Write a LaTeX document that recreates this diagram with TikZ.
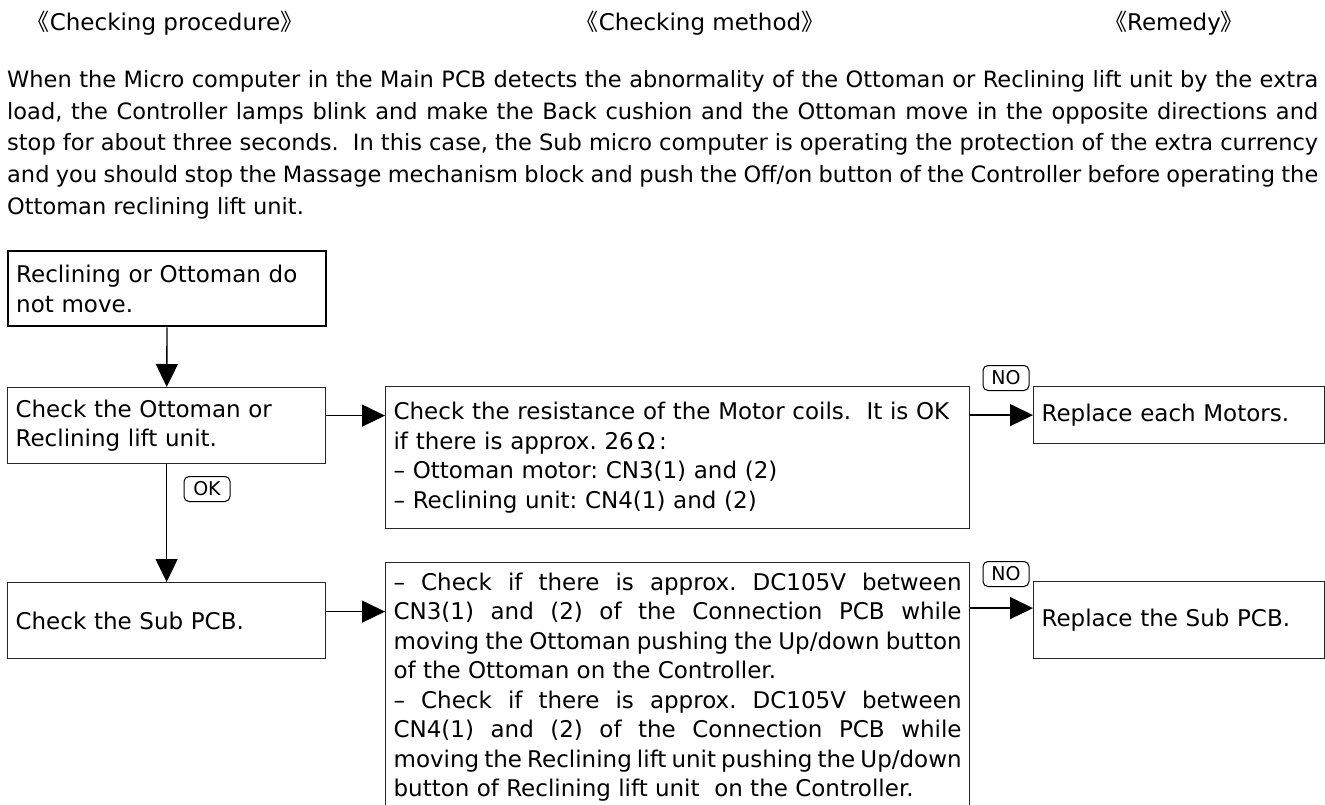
\documentclass[tikz,border=0pt]{standalone}
\usepackage{fontspec}
\setmainfont{DejaVu Sans}
\newfontfamily\cjk{Noto Sans CJK JP}
\usetikzlibrary{arrows.meta}
\frenchspacing

\begin{document}
\begin{tikzpicture}[x=1pt,y=-1pt,>={Triangle[length=23pt,width=22pt]},
  font=\fontsize{23}{29.5}\selectfont,
  box/.style={draw=black!85,line width=1.2pt,anchor=north west,inner xsep=8pt,inner ysep=0pt,align=left},
  tag/.style={draw,rounded corners=5pt,line width=1pt,font=\fontsize{19}{19}\selectfont,minimum width=46pt,minimum height=25pt,inner sep=0pt},
  arr/.style={->,line width=1.4pt}]
\useasboundingbox (0,0) rectangle (1325,805);
% headings
\node (hproc) at (165,23) {{\cjk 《}Checking procedure{\cjk 》}};
\node (hmeth) at (700,23) {{\cjk 《}Checking method{\cjk 》}};
\node (hrem) at (1174,23) {{\cjk 《}Remedy{\cjk 》}};
\node[anchor=north west,inner sep=0pt,text width=1311pt,align=justify,
  font=\fontsize{22.5}{31.75}\selectfont] (intro) at (7,70)
  {\hyphenpenalty=10000 When the Micro computer in the Main PCB detects the abnormality of the Ottoman or Reclining lift unit by the extra\linebreak
   load, the Controller lamps blink and make the Back cushion and the Ottoman move in the opposite directions and\linebreak
   stop for about three seconds.\ \ In this case, the Sub micro computer is operating the protection of the extra currency\linebreak
   and you should stop the Massage mechanism block and push the Off/on button of the Controller before operating the\linebreak
   Ottoman reclining lift unit.};
% procedure column
\node[box,line width=2.4pt,draw=black,text width=302pt,minimum height=75pt] (start) at (7,250)
  {Reclining or Ottoman do\\not move.};
\node[box,text width=302pt,minimum height=76pt] (lift) at (7,387)
  {Check the Ottoman or\\Reclining lift unit.};
\node[box,text width=302pt,minimum height=76pt] (sub) at (7,582)
  {Check the Sub PCB.};
% method column
\node[box,text width=568pt,minimum height=142pt] (coil) at (385,386)
  {Check the resistance of the Motor coils.\ \ It is OK\\
   if there is approx. 26\,Ω\,:\\
   – Ottoman motor: CN3(1) and (2)\\
   – Reclining unit: CN4(1) and (2)};
\node[box,text width=568pt,minimum height=249pt,align=justify] (volt) at (385,562)
  {\hyphenpenalty=10000 – Check if there is approx. DC105V between\linebreak
   CN3(1) and (2) of the Connection PCB while\linebreak
   moving the Ottoman pushing the Up/down button\linebreak
   of the Ottoman on the Controller.\par
   – Check if there is approx. DC105V between\linebreak
   CN4(1) and (2) of the Connection PCB while\linebreak
   moving the Reclining lift unit pushing the Up/down\linebreak
   button of Reclining lift unit\ \ on the Controller.};
% remedy column
\node[box,text width=275pt,minimum height=57pt] (motor) at (1033,386)
  {Replace each Motors.};
\node[box,text width=275pt,minimum height=77pt] (board) at (1033,581)
  {Replace the Sub PCB.};
% connectors
\draw[arr] (start) -- (lift);
\draw[arr] (lift) -- (sub);
\node[tag] (ok) at (207,489) {OK};
\draw[arr] ([yshift=10pt]lift.east) -- ([yshift=10pt]lift.east -| coil.west);
\draw[arr] (coil.east |- motor.west) -- (motor.west);
\node[tag] (no1) at (1006,378) {NO};
\draw[arr] ([yshift=9pt]sub.east) -- ([yshift=9pt]sub.east -| volt.west);
\draw[arr] ([yshift=12pt]board.west -| volt.east) -- ([yshift=12pt]board.west);
\node[tag] (no2) at (1006,574) {NO};
\end{tikzpicture}
\end{document}
